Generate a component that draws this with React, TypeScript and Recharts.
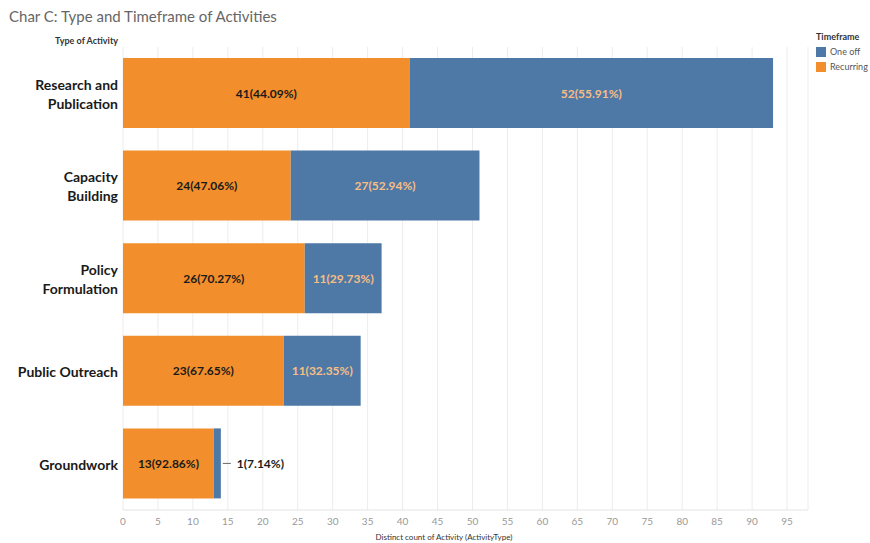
import React from 'react'
import {
  BarChart,
  Bar,
  XAxis,
  YAxis,
  CartesianGrid,
  LabelList,
} from 'recharts'

const categories = [
  'Research and Publication',
  'Capacity Building',
  'Policy Formulation',
  'Public Outreach',
  'Groundwork',
]
const categoryLines = [
  ['Research and', 'Publication'],
  ['Capacity', 'Building'],
  ['Policy', 'Formulation'],
  ['Public Outreach'],
  ['Groundwork'],
]
const recurring = [41, 24, 26, 23, 13]
const oneOff = [52, 27, 11, 11, 1]
const xTicks = [0, 5, 10, 15, 20, 25, 30, 35, 40, 45, 50, 55, 60, 65, 70, 75, 80, 85, 90, 95]

const ORANGE = '#f28e2b'
const BLUE = '#4e79a7'
const FONT = 'Lato, "Open Sans", sans-serif'

const data = categories.map((name, i) => {
  const total = recurring[i] + oneOff[i]
  return {
    name,
    recurring: recurring[i],
    oneOff: oneOff[i],
    recurringLabel: `${recurring[i]}(${((recurring[i] / total) * 100).toFixed(2)}%)`,
    oneOffLabel: `${oneOff[i]}(${((oneOff[i] / total) * 100).toFixed(2)}%)`,
  }
})

function CategoryTick(props: any) {
  const { x, y, payload } = props
  const idx = categories.indexOf(payload.value)
  const lines = categoryLines[idx] || [payload.value]
  const start = y - ((lines.length - 1) * 19) / 2
  return (
    <text
      x={x + 3}
      y={start}
      textAnchor="end"
      dominantBaseline="central"
      fontFamily={FONT}
      fontSize={14}
      fontWeight={700}
      fill="#1a1a1a"
    >
      {lines.map((l, i) => (
        <tspan key={i} x={x + 3} y={start + i * 19}>
          {l}
        </tspan>
      ))}
    </text>
  )
}

function makeLabel(color: string) {
  return (props: any) => {
    const { x, y, width, height, value } = props
    const cy = y + height / 2
    if (width < 20) {
      // too thin for the text: put it outside with a short leader line
      return (
        <g>
          <line x1={x + width + 2} x2={x + width + 10} y1={cy} y2={cy} stroke="#666" strokeWidth={1} />
          <text
            x={x + width + 16}
            y={cy}
            dominantBaseline="central"
            fontFamily={FONT}
            fontSize={12}
            fontWeight={700}
            fill="#1a1a1a"
          >
            {value}
          </text>
        </g>
      )
    }
    return (
      <text
        x={x + width / 2}
        y={cy}
        textAnchor="middle"
        dominantBaseline="central"
        fontFamily={FONT}
        fontSize={12}
        fontWeight={700}
        fill={color}
      >
        {value}
      </text>
    )
  }
}

function TimeframeLegend() {
  const items = [
    { label: 'One off', color: BLUE },
    { label: 'Recurring', color: ORANGE },
  ]
  return (
    <div style={{ position: 'absolute', left: 816, top: 31, fontFamily: FONT, fontSize: 9, color: '#333' }}>
      <div style={{ fontWeight: 700, marginBottom: 2 }}>Timeframe</div>
      {items.map((it) => (
        <div key={it.label} style={{ display: 'flex', alignItems: 'center', height: 15 }}>
          <span style={{ width: 10, height: 10, background: it.color, marginRight: 4, display: 'inline-block' }} />
          <span style={{ color: '#555' }}>{it.label}</span>
        </div>
      ))}
    </div>
  )
}

export default function App() {
  return (
    <div style={{ position: 'absolute', left: 0, top: 0, width: 870, height: 543, background: '#fff', overflow: 'hidden' }}>
      <div
        style={{
          position: 'absolute',
          left: 9,
          top: 7,
          fontFamily: FONT,
          fontSize: 15,
          color: '#666',
        }}
      >
        Char C: Type and Timeframe of Activities
      </div>
      <div
        style={{
          position: 'absolute',
          left: 0,
          width: 118,
          top: 35,
          textAlign: 'right',
          fontFamily: FONT,
          fontSize: 9,
          fontWeight: 700,
          color: '#333',
        }}
      >
        Type of Activity
      </div>
      <TimeframeLegend />
      <div
        style={{
          position: 'absolute',
          left: 344,
          width: 200,
          top: 532,
          textAlign: 'center',
          fontFamily: FONT,
          fontSize: 8,
          color: '#333',
        }}
      >
        Distinct count of Activity (ActivityType)
      </div>
      <BarChart
        width={870}
        height={543}
        data={data}
        layout="vertical"
        margin={{ top: 47, right: 62, left: 0, bottom: 0 }}
        barSize={70}
        style={{ position: 'absolute', left: 0, top: 0 }}
      >
        <CartesianGrid horizontal={false} stroke="#ececec" />
        <XAxis
          type="number"
          domain={[0, 98]}
          ticks={xTicks}
          interval={0}
          height={33}
          tickLine={false}
          axisLine={{ stroke: '#e4e4e4' }}
          tick={{ fontFamily: FONT, fontSize: 10, fill: '#999' }}
        />
        <YAxis
          type="category"
          dataKey="name"
          width={123}
          tickLine={false}
          axisLine={false}
          tick={<CategoryTick />}
        />
        <Bar dataKey="recurring" stackId="a" fill={ORANGE} isAnimationActive={false}>
          <LabelList dataKey="recurringLabel" content={makeLabel('#1a1a1a')} />
        </Bar>
        <Bar dataKey="oneOff" stackId="a" fill={BLUE} isAnimationActive={false}>
          <LabelList dataKey="oneOffLabel" content={makeLabel('#f7be84')} />
        </Bar>
      </BarChart>
    </div>
  )
}
